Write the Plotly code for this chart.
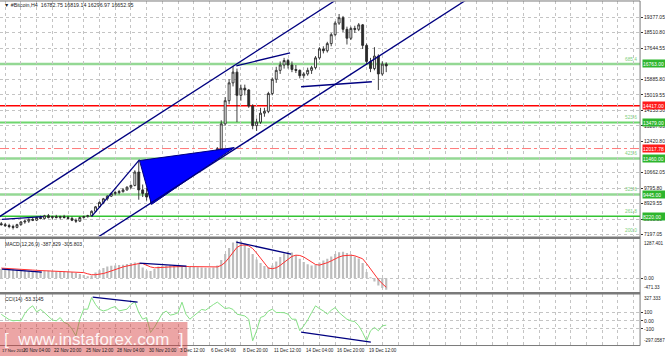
import plotly.graph_objects as go
import pandas as pd

W, H = 665, 357

# ---------------- data (8-hour candles) ----------------
candle_start = "2017-11-18 12:00"          # centre of first candle
opens = [7800, 7750, 7700, 7650, 7600, 7750, 7900, 7950, 8050, 8000,
         8150, 8100, 8250, 8150, 8200, 8150, 8200, 8150, 8100, 8000,
         7950, 8150, 8200, 8250, 8500, 8750, 9000, 9200, 9350, 9500,
         9550, 9600, 9700, 9850, 9950, 10700, 9700, 9500, 9300, 9500,
         9900, 10300, 10800, 10900, 10950, 11000, 11250, 11450, 11350, 11300,
         11350, 11400, 11500, 11600, 11650, 11700, 12000, 13400, 14700, 15700,
         16300, 15000, 15400, 15300, 14400, 13300, 13500, 14000, 14100, 15100,
         15900, 16400, 16700, 16950, 16700, 16450, 16400, 16100, 16200, 16400,
         16550, 17100, 17600, 17500, 17900, 18400, 19050, 19350, 18700, 18200,
         18750, 18700, 18950, 17800, 16900, 16500, 17200, 16200, 16750]
highs = [7900, 7850, 7800, 7750, 7800, 7950, 8000, 8100, 8150, 8200,
         8250, 8300, 8350, 8250, 8300, 8250, 8300, 8250, 8200, 8100,
         8200, 8250, 8300, 8550, 8800, 9050, 9250, 9400, 9550, 9650,
         9700, 9800, 9900, 10000, 10800, 11350, 10000, 9800, 9650, 10000,
         10400, 10850, 11000, 11050, 11100, 11300, 11550, 11550, 11450, 11450,
         11500, 11600, 11700, 11750, 11800, 12100, 13600, 14900, 15900, 16650,
         16500, 15600, 15600, 15350, 14500, 13700, 14300, 14300, 15200, 16000,
         16600, 16900, 17100, 17050, 16900, 16700, 16450, 16300, 16550, 16650,
         17200, 17700, 17750, 18000, 18500, 19150, 19560, 19450, 18850, 18850,
         18900, 19050, 19000, 17900, 17100, 17700, 17300, 16900, 16850]
lows = [7700, 7620, 7550, 7480, 7550, 7700, 7800, 7850, 7950, 7950,
        8050, 8050, 8100, 8050, 8100, 8050, 8100, 8050, 7950, 7850,
        7900, 8100, 8150, 8200, 8450, 8700, 8900, 9100, 9300, 9400,
        9450, 9550, 9650, 9750, 9900, 9150, 9300, 9100, 8900, 9450,
        9850, 10250, 10700, 10750, 10800, 10950, 11200, 11250, 11150, 11200,
        11250, 11300, 11450, 11500, 11550, 11650, 11950, 13300, 14500, 15500,
        13500, 14700, 15000, 14300, 13100, 13000, 13400, 13800, 14000, 15000,
        15700, 16200, 16500, 16500, 16300, 16250, 15950, 15950, 16100, 16200,
        16450, 17000, 17350, 17400, 17750, 18300, 18950, 18550, 17850, 18100,
        18500, 18600, 17600, 16700, 16300, 16400, 15300, 16100, 16300]
closes = [7750, 7700, 7650, 7600, 7750, 7900, 7950, 8050, 8000, 8150,
          8100, 8250, 8150, 8200, 8150, 8200, 8150, 8100, 8000, 7950,
          8150, 8200, 8250, 8500, 8750, 9000, 9200, 9350, 9500, 9550,
          9600, 9700, 9850, 9950, 10700, 9700, 9500, 9300, 9500, 9900,
          10300, 10800, 10900, 10950, 11000, 11250, 11450, 11350, 11300, 11350,
          11400, 11500, 11600, 11650, 11700, 12000, 13400, 14700, 15700, 16300,
          15000, 15400, 15300, 14400, 13300, 13500, 14000, 14100, 15100, 15900,
          16400, 16700, 16950, 16700, 16450, 16400, 16100, 16200, 16400, 16550,
          17100, 17600, 17500, 17900, 18400, 19050, 19350, 18700, 18200, 18750,
          18700, 18950, 17800, 16900, 16500, 17200, 16200, 16750, 16650]

macd_main = [300, 310, 290, 280, 270, 260, 250, 240, 230, 220,
             210, 230, 240, 230, 220, 230, 220, 210, 200, 170,
             130, 100, 60, 80, 180, 260, 330, 380, 410, 420,
             430, 440, 470, 500, 520, 510, 350, 250, 230, 300,
             380, 400, 420, 420, 410, 420, 400, 390, 380, 370,
             360, 350, 340, 340, 350, 420, 600, 800, 1000, 1180,
             1240, 1230, 1150, 1000, 800, 620, 500, 400, 350, 420,
             550, 700, 820, 880, 850, 760, 640, 530, 460, 420,
             440, 520, 580, 640, 720, 800, 860, 870, 830, 780,
             720, 650, 500, 200, 10, -120, -250, -330, -388]
macd_signal = [330, 325, 320, 315, 305, 295, 285, 275, 265, 255,
               250, 245, 240, 235, 230, 228, 225, 222, 220, 215,
               210, 180, 140, 110, 110, 120, 150, 190, 240, 290,
               330, 370, 400, 430, 460, 480, 480, 420, 370, 340,
               340, 350, 360, 370, 380, 385, 385, 385, 380, 375,
               370, 365, 360, 355, 355, 370, 420, 520, 680, 860,
               1020, 1090, 1100, 1070, 980, 830, 650, 470, 330, 310,
               340, 420, 530, 640, 720, 760, 750, 700, 620, 520,
               450, 430, 460, 510, 570, 640, 700, 740, 760, 760,
               740, 700, 640, 480, 300, 120, -50, -190, -306]
cci_values = [80, 50, 15, 0, 5, 0, 90, 150, 184, 110,
              140, 100, 60, 10, 0, 40, -20, -40, -100, -184,
              20, 143, 143, 286, 200, 140, 122, 135, 160, 175,
              122, 135, 143, 200, 233, 102, 20, 41, -143, -78,
              0, 90, 120, 70, 80, 100, 229, 82, 20, 60,
              100, 140, 130, 170, 200, 230, 184, 150, 160, 140,
              82, 70, 60, 20, -245, -122, 41, 60, 120, 143,
              102, 102, 100, 82, 20, 20, -122, -61, 10, 100,
              184, 150, 122, 82, 130, 163, 102, 60, 20, 0,
              -10, -60, -143, -245, -122, -81, -122, -61, -53]

price_ticks = [19377.05, 18510.80, 17644.55, 15885.80, 15019.55, 14153.30,
               13287.05, 12420.80, 10662.05, 9795.80, 8929.55, 8063.30, 7197.05]
macd_ticks = [0]
macd_extremes = ["1287.401", "-471.33"]
cci_ticks = [100, 0, -100]
cci_tick_text = ["100", "0.00", "-100"]
cci_extremes = ["327.333", "-297.0587"]

first_time_label = "17 Nov 2017"
time_tick_labels = ["20 Nov 04:00", "22 Nov 20:00", "25 Nov 12:00",
                    "28 Nov 04:00", "30 Nov 20:00", "3 Dec 12:00", "6 Dec 04:00",
                    "8 Dec 20:00", "11 Dec 12:00", "14 Dec 04:00", "16 Dec 20:00",
                    "19 Dec 12:00"]
time_tick_pos = ["2017-11-20 04:00", "2017-11-22 20:00", "2017-11-25 12:00",
                 "2017-11-28 04:00", "2017-11-30 20:00", "2017-12-03 12:00", "2017-12-06 04:00",
                 "2017-12-08 20:00", "2017-12-11 12:00", "2017-12-14 04:00", "2017-12-16 20:00",
                 "2017-12-19 12:00"]

# horizontal levels: value, colour, width, dash, box colour, fibo text
levels = [
    (16763.00, "#94D894", 2.5, "solid", "#2DB52D", "685.4"),
    (14417.00, "#FF0000", 1.5, "solid", "#FF1A1A", None),
    (13479.00, "#6ED66E", 2.0, "solid", "#2DB52D", "523.6"),
    (12017.78, "#FF7A7A", 1.0, "dashdot", "#FF1A1A", None),
    (11460.00, "#94D894", 2.5, "solid", "#2DB52D", "423.6"),
    (9445.00, "#94D894", 2.5, "solid", "#2DB52D", "323.6"),
    (8220.00, "#33C433", 1.6, "solid", "#2DB52D", "261.8"),
]
fibo_200 = (7150.0, "200.0")

# hand-drawn analysis lines (time, value)
price_lines = [
    (["2017-11-17 13:06", "2017-12-16 21:36"], [7856, 20344]),
    (["2017-11-26 16:18", "2017-12-29 00:00"], [7040, 20791]),
    (["2017-11-18 13:24", "2017-11-22 00:42"], [8046, 8197]),
    (["2017-11-26 04:12", "2017-11-30 05:36"], [8214, 11400]),
    (["2017-12-08 10:36", "2017-12-13 00:12"], [16655, 17382]),
    (["2017-12-13 22:36", "2017-12-19 22:42"], [15481, 15761]),
]
triangle_t = ["2017-11-30 05:36", "2017-12-08 06:30", "2017-12-01 06:00", "2017-11-30 05:36"]
triangle_p = [11344, 12071, 8884, 11344]
macd_lines = [
    (["2017-11-18 13:24", "2017-11-21 22:36"], [299, 199]),
    (["2017-11-30 05:36", "2017-12-04 05:06"], [498, 398]),
    (["2017-12-08 10:36", "2017-12-13 02:18"], [1195, 797]),
]
cci_lines = [
    (["2017-11-26 06:12", "2017-11-30 01:36"], [290, 229]),
    (["2017-12-13 22:36", "2017-12-19 20:42"], [-138, -261]),
]

title_text = "\u25bc #Bitcoin,H4  16782.75 16819.14 16296.97 16652.95"
macd_label = "MACD(12,26,9) -387.829 -305.803"
cci_label = "CCI(14) -53.3145"
watermark = "[  www.instaforex.com  ]"

# ---------------- layout geometry ----------------
times = pd.date_range(candle_start, periods=len(closes), freq="8h")
x_range = ["2017-11-18 09:24", "2018-01-11 17:00"]
XR = 642 / W
def py(p):
    return 1 - p / H
main_dom = [py(237), py(1.5)]
macd_dom = [py(293), py(240)]
cci_dom = [py(346), py(295)]
FONT = "Liberation Sans"
NAVY = "#000080"

fig = go.Figure()

# filled triangle sits under the candles
fig.add_trace(go.Scatter(x=triangle_t, y=triangle_p, mode="lines", fill="toself",
                         fillcolor="#0000FF", line=dict(color=NAVY, width=1),
                         xaxis="x", yaxis="y", hoverinfo="skip"))

fig.add_trace(go.Candlestick(
    x=times, open=opens, high=highs, low=lows, close=closes,
    increasing=dict(line=dict(color="#2a2a2a", width=0.9), fillcolor="#FFFFFF"),
    decreasing=dict(line=dict(color="#2a2a2a", width=0.9), fillcolor="#2a2a2a"),
    whiskerwidth=0, xaxis="x", yaxis="y", hoverinfo="skip"))

for tt, pp in price_lines:
    fig.add_trace(go.Scatter(x=tt, y=pp, mode="lines", line=dict(color=NAVY, width=1.3),
                             xaxis="x", yaxis="y", hoverinfo="skip"))

fig.add_trace(go.Bar(x=times, y=macd_main, marker=dict(color="#BDBDBD", line=dict(width=0)),
                     width=8 * 3600 * 1000 * 0.55, xaxis="x2", yaxis="y2", hoverinfo="skip"))
fig.add_trace(go.Scatter(x=times, y=macd_signal, mode="lines", line=dict(color="#FF3030", width=1),
                         xaxis="x2", yaxis="y2", hoverinfo="skip"))
for tt, pp in macd_lines:
    fig.add_trace(go.Scatter(x=tt, y=pp, mode="lines", line=dict(color=NAVY, width=1.3),
                             xaxis="x2", yaxis="y2", hoverinfo="skip"))

fig.add_trace(go.Scatter(x=times, y=cci_values, mode="lines", line=dict(color="#86E086", width=1),
                         xaxis="x3", yaxis="y3", hoverinfo="skip"))
for tt, pp in cci_lines:
    fig.add_trace(go.Scatter(x=tt, y=pp, mode="lines", line=dict(color=NAVY, width=1.3),
                             xaxis="x3", yaxis="y3", hoverinfo="skip"))

grid = dict(showgrid=True, gridcolor="#C4C4C4", griddash="dot", gridwidth=1)
xcommon = dict(type="date", range=x_range, domain=[0, XR], showticklabels=False, ticks="",
               tick0="2017-11-20 04:00", dtick=32 * 3600 * 1000, zeroline=False, **grid)
tickfont = dict(family=FONT, size=5, color="#222222")
ycommon = dict(side="right", ticks="outside", ticklen=2, tickcolor="#333333",
               tickfont=tickfont, zeroline=False, fixedrange=True, **grid)

fig.update_layout(
    width=W, height=H, margin=dict(l=0, r=0, t=0, b=0),
    paper_bgcolor="white", plot_bgcolor="white", showlegend=False,
    xaxis=dict(anchor="y", rangeslider=dict(visible=False), **xcommon),
    xaxis2=dict(anchor="y2", **xcommon),
    xaxis3=dict(anchor="y3", **xcommon),
    yaxis=dict(anchor="x", domain=main_dom, range=[7096, 20260], tickvals=price_ticks,
               ticktext=[f"{v:.2f}" for v in price_ticks], **ycommon),
    yaxis2=dict(anchor="x2", domain=macd_dom, range=[-471.33, 1287.401], tickvals=macd_ticks,
                ticktext=["0.00"], **ycommon),
    yaxis3=dict(anchor="x3", domain=cci_dom, range=[-297.0587, 327.333], tickvals=cci_ticks,
                ticktext=cci_tick_text, **ycommon),
)

shapes = []
annotations = []
for val, col, wid, dash, boxcol, fib in levels:
    shapes.append(dict(type="line", xref="paper", x0=0, x1=XR, yref="y", y0=val, y1=val,
                       line=dict(color=col, width=wid, dash=dash), layer="below"))
    annotations.append(dict(xref="paper", x=XR + 1.5 / W, xanchor="left", yref="y", y=val,
                            yanchor="middle", text=f"{val:.2f}", showarrow=False,
                            bgcolor=boxcol, font=dict(family=FONT, size=5, color="white"),
                            width=22, height=7, borderpad=0, align="left"))
    if fib:
        annotations.append(dict(xref="paper", x=XR - 1 / W, xanchor="right", yref="y", y=val,
                                yanchor="bottom", text=fib, showarrow=False,
                                font=dict(family=FONT, size=4.8, color="#7CCF7C")))
annotations.append(dict(xref="paper", x=XR - 1 / W, xanchor="right", yref="y", y=fibo_200[0],
                        yanchor="bottom", text=fibo_200[1], showarrow=False,
                        font=dict(family=FONT, size=4.8, color="#7CCF7C")))

# frame and separators
lc = "#7a7a7a"
shapes += [
    dict(type="line", xref="paper", yref="paper", x0=0, x1=XR, y0=py(1), y1=py(1), line=dict(color=lc, width=1)),
    dict(type="line", xref="paper", yref="paper", x0=XR, x1=XR, y0=py(346.5), y1=py(1), line=dict(color=lc, width=1)),
    dict(type="line", xref="paper", yref="paper", x0=0, x1=XR, y0=py(238.5), y1=py(238.5), line=dict(color=lc, width=2.5)),
    dict(type="line", xref="paper", yref="paper", x0=0, x1=XR, y0=py(294), y1=py(294), line=dict(color=lc, width=2.5)),
    dict(type="line", xref="paper", yref="paper", x0=0, x1=XR, y0=py(346.5), y1=py(346.5), line=dict(color=lc, width=1)),
    dict(type="rect", xref="paper", yref="paper", x0=0, x1=188 / W, y0=0, y1=py(323),
         fillcolor="rgba(214,64,64,0.47)", line=dict(width=0), layer="above"),
]

small = dict(family=FONT, size=5, color="#222222")
ext = dict(family=FONT, size=4.6, color="#222222")
annotations += [
    dict(xref="paper", yref="paper", x=2 / W, y=py(5), xanchor="left", yanchor="middle",
         text=title_text, showarrow=False, font=dict(family=FONT, size=5.3, color="#222222")),
    dict(xref="paper", yref="paper", x=3 / W, y=py(244.5), xanchor="left", yanchor="middle",
         text=macd_label, showarrow=False, font=small),
    dict(xref="paper", yref="paper", x=3 / W, y=py(299.5), xanchor="left", yanchor="middle",
         text=cci_label, showarrow=False, font=small),
    dict(xref="paper", yref="paper", x=XR + 2 / W, y=macd_dom[1], xanchor="left", yanchor="top",
         text=macd_extremes[0], showarrow=False, font=ext),
    dict(xref="paper", yref="paper", x=XR + 2 / W, y=macd_dom[0], xanchor="left", yanchor="bottom",
         text=macd_extremes[1], showarrow=False, font=ext),
    dict(xref="paper", yref="paper", x=XR + 2 / W, y=cci_dom[1], xanchor="left", yanchor="top",
         text=cci_extremes[0], showarrow=False, font=ext),
    dict(xref="paper", yref="paper", x=XR + 1.5 / W, y=cci_dom[0], xanchor="left", yanchor="bottom",
         text=cci_extremes[1], showarrow=False, font=ext),
    dict(xref="paper", yref="paper", x=94 / W, y=py(340), xanchor="center", yanchor="middle",
         text=watermark, showarrow=False,
         font=dict(family=FONT, size=17, color="rgba(255,255,255,0.9)")),
    dict(xref="paper", yref="paper", x=0.5 / W, y=py(351.5), xanchor="left", yanchor="middle",
         text=first_time_label, showarrow=False,
         font=dict(family=FONT, size=4.2, color="#222222")),
]
for lab, pos in zip(time_tick_labels, time_tick_pos):
    annotations.append(dict(xref="x3", yref="paper", x=pos, y=py(351.5), xanchor="left",
                            yanchor="middle", text=lab, showarrow=False,
                            font=dict(family=FONT, size=4.6, color="#222222"), xshift=0))

fig.update_layout(shapes=shapes, annotations=annotations)
fig.write_html("out.html", config={"displayModeBar": False},
               post_script="document.body.style.margin='0';document.body.style.overflow='hidden';")
